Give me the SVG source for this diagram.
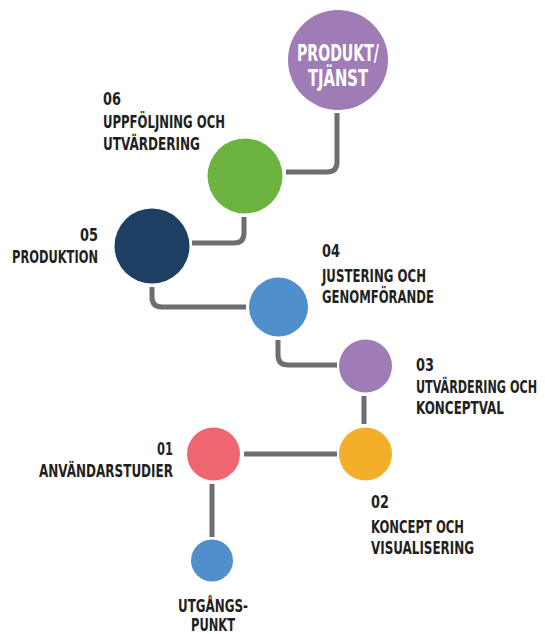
<svg xmlns="http://www.w3.org/2000/svg" width="545" height="634" viewBox="0 0 545 634">
<style>
.c{fill:none;stroke:#6d6e71;stroke-width:5}
.t{font-family:"DejaVu Sans Condensed","DejaVu Sans",sans-serif;font-weight:bold;font-size:18px;fill:#231f20}
.w{font-family:"DejaVu Sans Condensed","DejaVu Sans",sans-serif;font-weight:bold;font-size:23px;fill:#ffffff}
</style>
<rect width="545" height="634" fill="#ffffff"/>
<g id="connectors">
<path class="c" d="M337 113 V162 Q337 172 327 172 H286"/>
<path class="c" d="M244 217 V233 Q244 243 234 243 H192"/>
<path class="c" d="M152 287 V297 Q152 307 162 307 H246"/>
<path class="c" d="M278 340 V355 Q278 365 288 365 H337"/>
<path class="c" d="M364 396 V424"/>
<path class="c" d="M244 454 H337"/>
<path class="c" d="M212 484 V537"/>
</g>
<g id="produkt">
<circle cx="338" cy="60" r="50" fill="#a07cb7"/>
<text class="w" x="338" y="61" text-anchor="middle" textLength="82" lengthAdjust="spacingAndGlyphs">PRODUKT/</text>
<text class="w" x="338" y="86" text-anchor="middle" textLength="60" lengthAdjust="spacingAndGlyphs">TJÄNST</text>
</g>
<g id="n06">
<circle cx="245" cy="176" r="37.5" fill="#6db33f"/>
<text class="t" x="103" y="105" textLength="18" lengthAdjust="spacingAndGlyphs">06</text>
<text class="t" x="103" y="128" textLength="122" lengthAdjust="spacingAndGlyphs">UPPFÖLJNING OCH</text>
<text class="t" x="103" y="150" textLength="97" lengthAdjust="spacingAndGlyphs">UTVÄRDERING</text>
</g>
<g id="n05">
<circle cx="152" cy="246" r="37.5" fill="#1c3f63"/>
<text class="t" x="98" y="241" text-anchor="end" textLength="18" lengthAdjust="spacingAndGlyphs">05</text>
<text class="t" x="98" y="263" text-anchor="end" textLength="86" lengthAdjust="spacingAndGlyphs">PRODUKTION</text>
</g>
<g id="n04">
<circle cx="278.5" cy="307" r="29.5" fill="#4f8fcc"/>
<text class="t" x="322" y="257" textLength="18" lengthAdjust="spacingAndGlyphs">04</text>
<text class="t" x="322" y="282" textLength="104" lengthAdjust="spacingAndGlyphs">JUSTERING OCH</text>
<text class="t" x="322" y="303" textLength="112" lengthAdjust="spacingAndGlyphs">GENOMFÖRANDE</text>
</g>
<g id="n03">
<circle cx="365.5" cy="366" r="26.5" fill="#a07cb7"/>
<text class="t" x="416" y="371" textLength="18" lengthAdjust="spacingAndGlyphs">03</text>
<text class="t" x="416" y="393" textLength="121" lengthAdjust="spacingAndGlyphs">UTVÄRDERING OCH</text>
<text class="t" x="416" y="414" textLength="88" lengthAdjust="spacingAndGlyphs">KONCEPTVAL</text>
</g>
<g id="n02">
<circle cx="365.5" cy="454" r="26.5" fill="#f3ae2a"/>
<text class="t" x="371" y="508" textLength="18" lengthAdjust="spacingAndGlyphs">02</text>
<text class="t" x="371" y="533" textLength="93" lengthAdjust="spacingAndGlyphs">KONCEPT OCH</text>
<text class="t" x="371" y="554" textLength="103" lengthAdjust="spacingAndGlyphs">VISUALISERING</text>
</g>
<g id="n01">
<circle cx="213.5" cy="454" r="26.5" fill="#ef6670"/>
<text class="t" x="173" y="455" text-anchor="end" textLength="16" lengthAdjust="spacingAndGlyphs">01</text>
<text class="t" x="173" y="477" text-anchor="end" textLength="134" lengthAdjust="spacingAndGlyphs">ANVÄNDARSTUDIER</text>
</g>
<g id="start">
<circle cx="212" cy="560.5" r="21" fill="#4f8fcc"/>
<text class="t" x="213" y="612" text-anchor="middle" textLength="70" lengthAdjust="spacingAndGlyphs">UTGÅNGS-</text>
<text class="t" x="213" y="631" text-anchor="middle" textLength="44" lengthAdjust="spacingAndGlyphs">PUNKT</text>
</g>
</svg>
